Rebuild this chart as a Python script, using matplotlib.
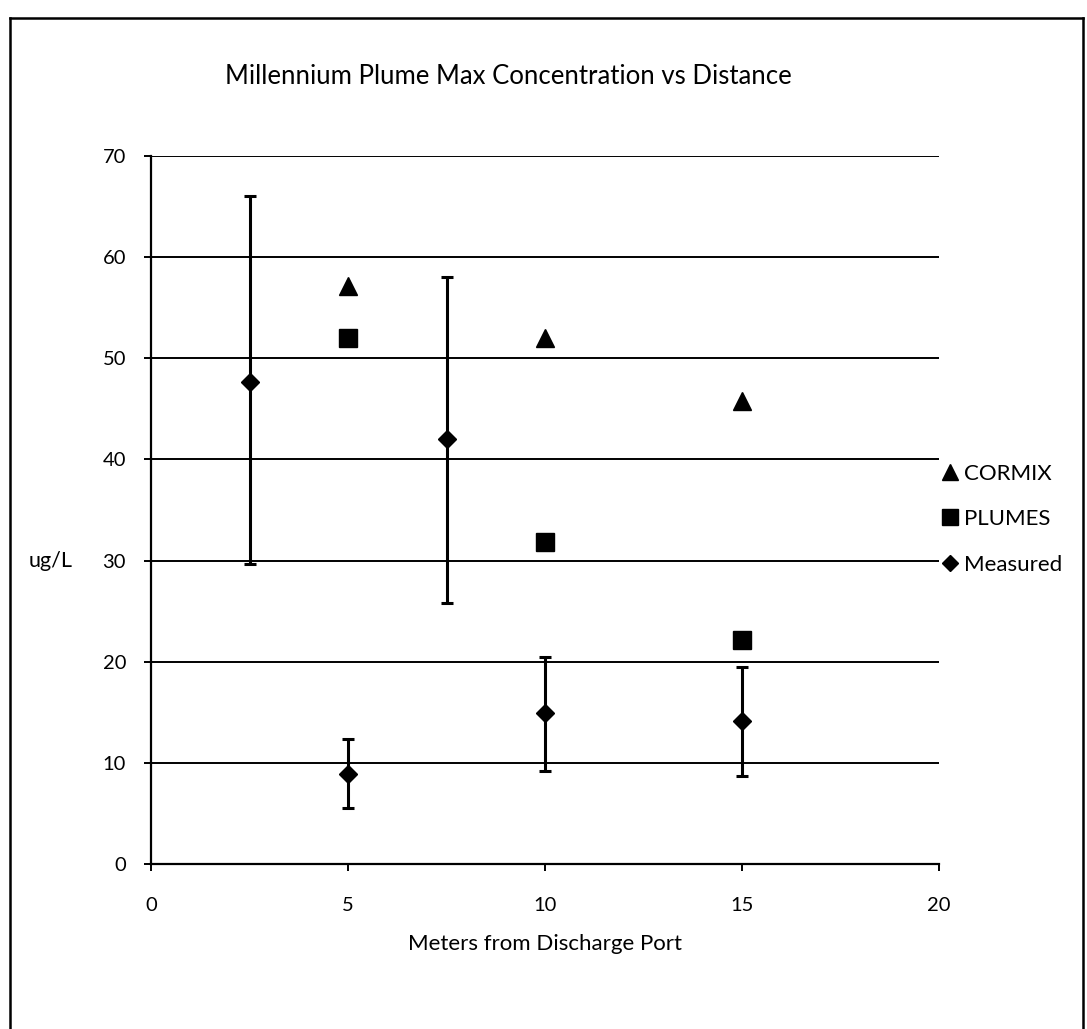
import matplotlib
matplotlib.use("Agg")
import matplotlib.pyplot as plt
from matplotlib.lines import Line2D

plt.rcParams['font.family'] = ['Lato', 'DejaVu Sans']

# ---- data ----
cormix_x = [5, 10, 15]
cormix_y = [57.1, 52.0, 45.8]

plumes_x = [5, 10, 15]
plumes_y = [52.0, 31.8, 22.1]

measured_x = [2.5, 5, 7.5, 10, 15]
measured_y = [47.7, 8.9, 42.0, 14.9, 14.1]
measured_hi = [66.0, 12.4, 58.0, 20.5, 19.5]
measured_lo = [29.7, 5.5, 25.8, 9.2, 8.7]

x_ticks = [0, 5, 10, 15, 20]
y_ticks = [0, 10, 20, 30, 40, 50, 60, 70]

title = "Millennium Plume Max Concentration vs Distance"
x_label = "Meters from Discharge Port"
y_label = "ug/L"

W, H = 1087, 1029
fig = plt.figure(figsize=(W / 100, H / 100), dpi=100)
ax = fig.add_axes([151 / W, 1 - 864 / H, (939 - 151) / W, (864 - 156) / H])

# grid lines
for yv in y_ticks[1:]:
    ax.axhline(yv, color='black', lw=1.4, zorder=1)

# error bars
err_lo = [m - lo for m, lo in zip(measured_y, measured_lo)]
err_hi = [hi - m for m, hi in zip(measured_y, measured_hi)]
ax.errorbar(measured_x, measured_y, yerr=[err_lo, err_hi], fmt='none',
            ecolor='black', elinewidth=2.2, capsize=4, capthick=2.2, zorder=2)

ax.plot(cormix_x, cormix_y, linestyle='none', marker='^', ms=13.5,
        color='black', label='CORMIX', zorder=3)
ax.plot(plumes_x, plumes_y, linestyle='none', marker='s', ms=13.5,
        color='black', label='PLUMES', zorder=3)
ax.plot(measured_x, measured_y, linestyle='none', marker='D', ms=9.5,
        color='black', label='Measured', zorder=4)

ax.set_xlim(0, 20)
ax.set_ylim(0, 70)
ax.set_xticks(x_ticks)
ax.set_yticks(y_ticks)
ax.tick_params(axis='both', direction='out', length=5, width=1.4,
               labelsize=14.5, color='black')
ax.tick_params(axis='y', pad=13)
ax.tick_params(axis='x', pad=19)

for s in ['top', 'right']:
    ax.spines[s].set_visible(False)
for s in ['left', 'bottom']:
    ax.spines[s].set_linewidth(1.6)

ax.set_xlabel(x_label, fontsize=16, labelpad=14)
fig.text(51 / W, 1 - 561 / H, y_label, fontsize=15.5, ha='center', va='center')
fig.text(508 / W, 1 - 76 / H, title, fontsize=18.5, ha='center', va='center')

leg = ax.legend(loc='center left', bbox_to_anchor=(0.99, 0.487), frameon=False,
                fontsize=16, handlelength=0.7, handletextpad=0.3,
                labelspacing=1.15, markerscale=0.85, borderpad=0)

# page border
fig.add_artist(Line2D([10 / W, 10 / W], [0, 1 - 18 / H], color='black', lw=1.8,
                      transform=fig.transFigure))
fig.add_artist(Line2D([10 / W, 1083 / W], [1 - 18 / H, 1 - 18 / H], color='black',
                      lw=1.8, transform=fig.transFigure))
fig.add_artist(Line2D([1083 / W, 1083 / W], [0, 1 - 18 / H], color='black', lw=1.8,
                      transform=fig.transFigure))

fig.savefig("out.png", dpi=100)
